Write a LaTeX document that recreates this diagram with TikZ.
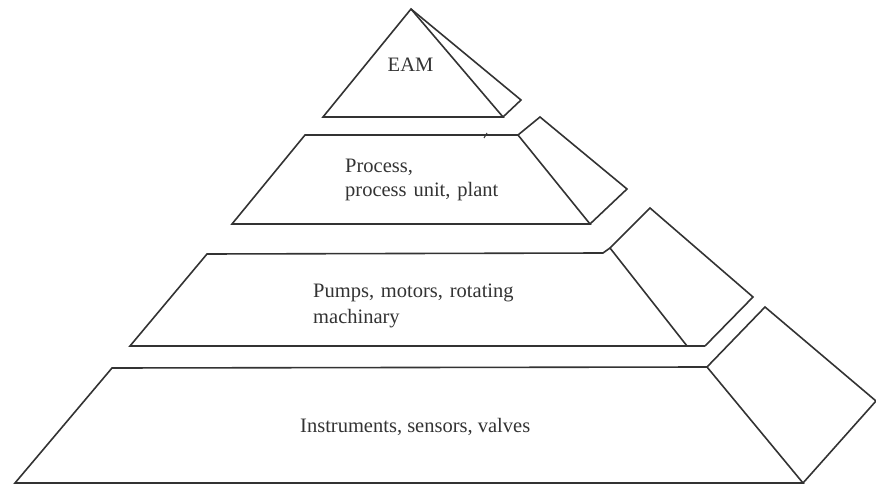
\documentclass[tikz,border=0pt]{standalone}
\usepackage{fontspec}
\setmainfont{Liberation Serif}
\begin{document}
\begin{tikzpicture}[x=1pt,y=-1pt,
  edge/.style={draw=black!80,line width=1.6pt,line join=miter},
  lbl/.style={font=\fontsize{20.5}{25}\selectfont,text=black!80,inner sep=0pt,anchor=base west,align=left}]
\useasboundingbox (0,0) rectangle (876,484);
% level 1
\coordinate (a1) at (411,9);
\coordinate (l1) at (323,117);
\coordinate (r1) at (503,117);
\coordinate (p1) at (521,100);
\draw[edge] (a1) -- (l1) -- (r1) -- cycle;
\draw[edge] (a1) -- (p1) -- (r1);
\node[lbl,anchor=base] (t1) at (410.5,72) {EAM};
% level 2
\coordinate (bl2) at (232,224);
\coordinate (tl2) at (305,135);
\coordinate (tr2) at (518,135);
\coordinate (br2) at (590,224);
\coordinate (pa2) at (540,117);
\coordinate (pb2) at (627,189);
\draw[edge] (bl2) -- (tl2) -- (tr2) -- (br2) -- cycle;
\draw[edge] (tr2) -- (pa2) -- (pb2) -- (br2);
\draw[edge,line width=1pt] (484,138) -- (487,133);
\node[lbl,text width=200pt] (t2) at (345,173) {Process,\\[-1pt]process unit, plant};
% level 3
\coordinate (bl3) at (130,346);
\coordinate (tl3) at (207,254);
\coordinate (tr3) at (603,253);
\coordinate (k3) at (610,248);
\coordinate (ib3) at (687,346);
\coordinate (br3) at (705,346);
\coordinate (pa3) at (650,208);
\coordinate (pb3) at (753,297);
\draw[edge] (br3) -- (bl3) -- (tl3) -- (tr3) -- (k3) -- (ib3);
\draw[edge] (k3) -- (pa3) -- (pb3) -- (br3);
\node[lbl,text width=230pt] (t3) at (313,297) {Pumps, motors, rotating\\[1pt]machinary};
% level 4
\coordinate (bl4) at (15,483);
\coordinate (tl4) at (112,368);
\coordinate (tr4) at (707,367);
\coordinate (br4) at (803,483);
\coordinate (pa4) at (765,307);
\coordinate (pb4) at (876,401);
\draw[edge] (bl4) -- (tl4) -- (tr4) -- (br4) -- cycle;
\draw[edge] (tr4) -- (pa4) -- (pb4) -- (br4);
\node[lbl] (t4) at (300,432) {Instruments, sensors, valves};
\end{tikzpicture}
\end{document}
